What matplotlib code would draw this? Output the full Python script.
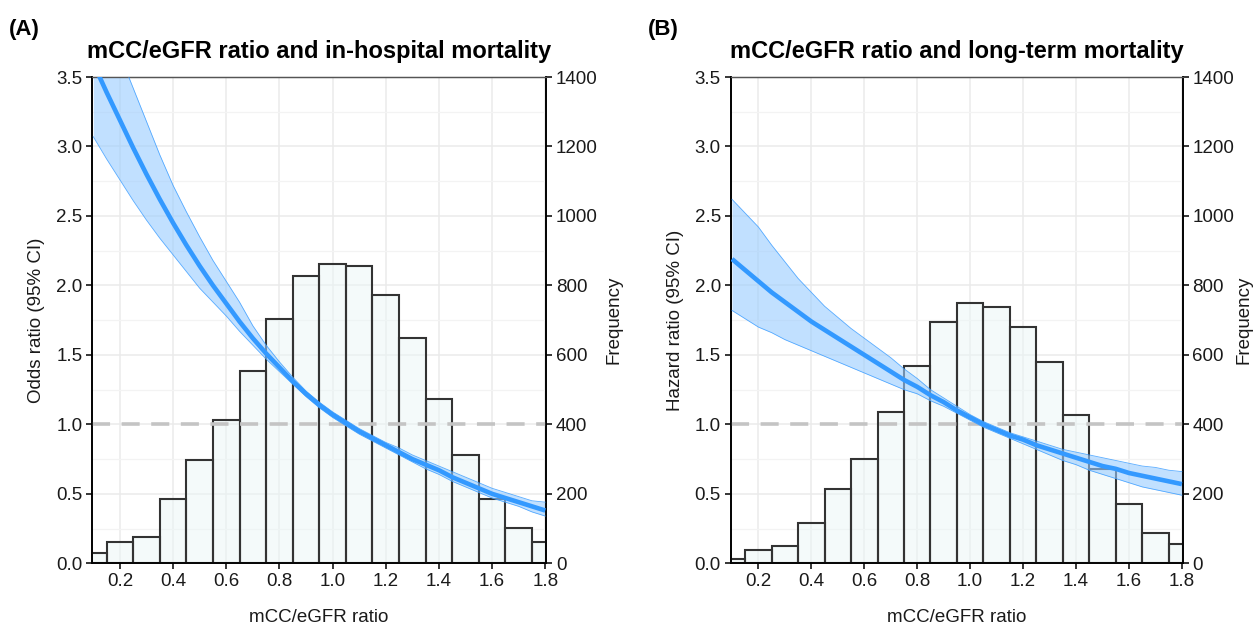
import numpy as np
import matplotlib
matplotlib.use("Agg")
import matplotlib.pyplot as plt
from matplotlib.ticker import MultipleLocator

plt.rcParams['font.family'] = ['Liberation Sans', 'DejaVu Sans']

# histogram: bin centres and counts (same bins in both panels)
bin_centers = [0.1, 0.2, 0.3, 0.4, 0.5, 0.6, 0.7, 0.8, 0.9, 1.0,
               1.1, 1.2, 1.3, 1.4, 1.5, 1.6, 1.7, 1.8]
freq_a = [29, 62, 76, 184, 297, 412, 555, 702, 828, 862,
          855, 772, 650, 474, 311, 186, 102, 60]
freq_b = [12, 38, 49, 116, 214, 301, 436, 568, 696, 750,
          739, 681, 579, 427, 271, 170, 88, 55]

# spline curves
ratio_x = [0.10, 0.15, 0.20, 0.25, 0.30, 0.35, 0.40, 0.45, 0.50, 0.55,
           0.60, 0.65, 0.70, 0.75, 0.80, 0.85, 0.90, 0.95, 1.00, 1.05,
           1.10, 1.15, 1.20, 1.25, 1.30, 1.35, 1.40, 1.45, 1.50, 1.55,
           1.60, 1.65, 1.70, 1.75, 1.80]

or_est = [3.60, 3.39, 3.19, 2.99, 2.80, 2.62, 2.45, 2.29, 2.14, 2.00,
          1.87, 1.74, 1.62, 1.51, 1.41, 1.31, 1.22, 1.14, 1.07, 1.01,
          0.95, 0.90, 0.85, 0.80, 0.75, 0.71, 0.67, 0.62, 0.58, 0.54,
          0.50, 0.47, 0.44, 0.41, 0.38]
or_low = [3.07, 2.91, 2.76, 2.61, 2.47, 2.34, 2.22, 2.10, 1.98, 1.88,
          1.78, 1.67, 1.57, 1.47, 1.38, 1.29, 1.20, 1.12, 1.05, 0.99,
          0.93, 0.88, 0.83, 0.78, 0.73, 0.68, 0.64, 0.59, 0.55, 0.51,
          0.47, 0.44, 0.41, 0.37, 0.34]
or_up = [4.15, 3.90, 3.66, 3.42, 3.18, 2.94, 2.72, 2.53, 2.35, 2.18,
         2.03, 1.88, 1.71, 1.57, 1.45, 1.34, 1.24, 1.16, 1.09, 1.03,
         0.97, 0.92, 0.87, 0.83, 0.78, 0.74, 0.70, 0.66, 0.62, 0.58,
         0.54, 0.51, 0.48, 0.45, 0.44]

hr_est = [2.19, 2.11, 2.03, 1.95, 1.88, 1.81, 1.74, 1.68, 1.62, 1.56,
          1.50, 1.44, 1.38, 1.32, 1.27, 1.21, 1.16, 1.10, 1.05, 1.00,
          0.96, 0.92, 0.89, 0.85, 0.82, 0.79, 0.76, 0.73, 0.70, 0.68,
          0.65, 0.63, 0.61, 0.59, 0.57]
hr_low = [1.82, 1.76, 1.70, 1.66, 1.61, 1.57, 1.53, 1.49, 1.45, 1.41,
          1.37, 1.33, 1.29, 1.25, 1.22, 1.17, 1.13, 1.08, 1.03, 0.98,
          0.94, 0.90, 0.86, 0.82, 0.78, 0.74, 0.71, 0.67, 0.64, 0.61,
          0.58, 0.55, 0.53, 0.51, 0.49]
hr_up = [2.62, 2.52, 2.42, 2.29, 2.17, 2.05, 1.95, 1.85, 1.77, 1.69,
         1.62, 1.55, 1.48, 1.40, 1.33, 1.25, 1.19, 1.13, 1.07, 1.02,
         0.98, 0.94, 0.91, 0.88, 0.85, 0.82, 0.80, 0.78, 0.76, 0.74,
         0.72, 0.70, 0.69, 0.67, 0.66]

LINE_BLUE = '#3399FF'
BAND_BLUE = '#99CCFF'


def draw_panel(fig, rect, freq, est, low, up, title, ylabel, tag, tag_x, freq_pad):
    ax2 = fig.add_axes(rect)   # histogram axis (right side)
    ax = ax2.twinx()           # curve axis, moved to the left side
    ax.yaxis.tick_left()
    ax.yaxis.set_label_position('left')
    ax2.yaxis.tick_right()
    ax2.yaxis.set_label_position('right')

    # grid lives on the bottom axis so bars sit over it
    ax2.set_axisbelow(True)
    ax2.set_ylim(0, 1400)
    ax2.yaxis.set_major_locator(MultipleLocator(200))
    ax2.yaxis.set_minor_locator(MultipleLocator(100))
    ax2.xaxis.set_major_locator(MultipleLocator(0.2))
    ax2.grid(which='major', color='#EBEBEB', linewidth=1.1)
    ax2.grid(which='minor', axis='y', color='#F3F3F3', linewidth=0.9)
    ax2.tick_params(which='minor', length=0)

    ax2.bar(bin_centers, freq, width=0.1, color='#EAF6F6', alpha=0.5,
            edgecolor='none', zorder=2)
    ax2.bar(bin_centers, freq, width=0.1, fill=False,
            edgecolor='#333333', linewidth=1.5, zorder=3)

    ax.axhline(1.0, color='#C4C4C4', linestyle=(0, (5, 3.2)), linewidth=2.6, zorder=1)
    ax.fill_between(ratio_x, low, up, color=BAND_BLUE, alpha=0.6,
                    linewidth=0, zorder=2)
    ax.plot(ratio_x, low, color=LINE_BLUE, linewidth=0.6, alpha=0.8, zorder=3)
    ax.plot(ratio_x, up, color=LINE_BLUE, linewidth=0.6, alpha=0.8, zorder=3)
    ax.plot(ratio_x, est, color=LINE_BLUE, linewidth=3.3, zorder=4,
            solid_capstyle='butt', solid_joinstyle='round')

    ax.set_ylim(0, 3.5)
    ax.set_yticks([0.0, 0.5, 1.0, 1.5, 2.0, 2.5, 3.0, 3.5])
    ax.set_xlim(0.095, 1.803)
    ax2.set_xlim(0.095, 1.803)

    for a in (ax, ax2):
        for s in a.spines.values():
            s.set_color('black')
            s.set_linewidth(1.2)
        a.tick_params(axis='both', which='major', length=4, width=1.1,
                      colors='black', labelsize=13.5, labelcolor='#1A1A1A', pad=3)
    ax.spines['top'].set_color('#555555')
    ax.spines['top'].set_linewidth(0.9)
    ax2.spines['top'].set_color('#555555')
    ax2.spines['top'].set_linewidth(0.9)

    ax2.set_xlabel('mCC/eGFR ratio', fontsize=13.5, labelpad=14, color='#1A1A1A')
    ax.set_ylabel(ylabel, fontsize=13.5, labelpad=8, color='#1A1A1A')
    ax2.set_ylabel('Frequency', fontsize=13.5, labelpad=freq_pad, color='#1A1A1A')
    ax2.set_title(title, fontsize=17, fontweight='bold', pad=14)

    fig.text(tag_x, 0.953, tag, fontsize=16, fontweight='bold', va='center', ha='left')


fig = plt.figure(figsize=(12.55, 6.36), dpi=100)
draw_panel(fig, [0.0733, 0.1143, 0.3618, 0.7646], freq_a, or_est, or_low, or_up,
           'mCC/eGFR ratio and in-hospital mortality', 'Odds ratio (95% CI)', '(A)', 0.007, 6)
draw_panel(fig, [0.5822, 0.1143, 0.3602, 0.7646], freq_b, hr_est, hr_low, hr_up,
           'mCC/eGFR ratio and long-term mortality', 'Hazard ratio (95% CI)', '(B)', 0.516, 1)

fig.savefig('out.png', dpi=100, facecolor='white')
